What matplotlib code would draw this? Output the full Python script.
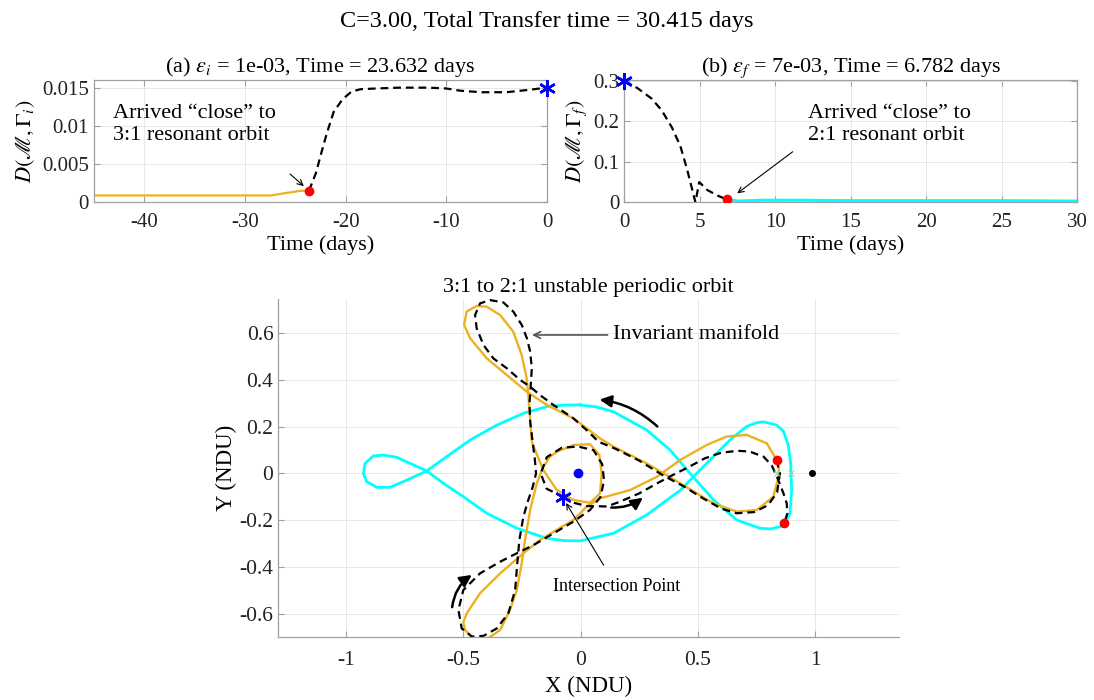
"""
Manifold transfer from the 3:1 to the 2:1 resonant orbit (C = 3.00).

Top row: distance of the manifold arc from each resonant orbit over time.
Bottom: the two orbits and the connecting manifold in the rotating frame.
"""
import matplotlib
matplotlib.use("Agg")
import matplotlib.pyplot as plt
from matplotlib.patches import FancyArrowPatch
from matplotlib.ticker import FormatStrFormatter

plt.rcParams["font.family"] = ["Liberation Serif", "DejaVu Serif"]
plt.rcParams["mathtext.fontset"] = "stix"
plt.rcParams["axes.unicode_minus"] = False

ORANGE = "#EDB120"
CYAN = "#00FFFF"
SPINE = "#a0a0a0"
GRID = "#e8e8e8"
DASH = (0, (3.5, 2.2))

# ---- (a) distance to the 3:1 orbit, backward time ----
a_orbit_t = [-45.0, -40.0, -35.0, -30.0, -27.4, -26.0, -24.5, -23.632]
a_orbit_d = [0.0009, 0.0009, 0.0009, 0.0009, 0.0009, 0.0012, 0.0015, 0.0015]
a_manif_t = [-23.632, -23.5, -22.96, -22.43, -21.9, -21.2, -20.3, -19.4, -18.5,
             -16.8, -14.65, -11.8, -10.05, -8.6, -6.5, -4.04, -1.9, 0.0]
a_manif_d = [0.0015, 0.0020, 0.0038, 0.0064, 0.0089, 0.0118, 0.0135, 0.0145,
             0.0148, 0.0149, 0.0150, 0.0150, 0.0149, 0.0146, 0.0144, 0.0144,
             0.0147, 0.0150]
a_arrive = (-23.632, 0.0015)
a_start = (0.0, 0.0150)

# ---- (b) distance to the 2:1 orbit, forward time ----
b_manif_t = [0.0, 0.9, 1.8, 2.47, 3.14, 3.7, 4.15, 4.49, 4.7, 4.95, 5.5, 6.2, 6.782]
b_manif_d = [0.300, 0.281, 0.256, 0.227, 0.185, 0.139, 0.081, 0.031, 0.0,
             0.050, 0.030, 0.016, 0.007]
b_orbit_t = [6.782, 7.5, 9.0, 12.0, 15.0, 20.0, 25.0, 30.0]
b_orbit_d = [0.007, 0.003, 0.005, 0.005, 0.004, 0.004, 0.004, 0.003]
b_arrive = (6.782, 0.007)
b_start = (0.0, 0.300)

# ---- rotating frame (NDU) ----
orb31_x = [-0.144, -0.031, 0.083, 0.140, 0.282, 0.425, 0.567, 0.666, 0.751, 0.822,
           0.844, 0.845, 0.836, 0.794, 0.708, 0.623, 0.538, 0.425, 0.325, 0.211,
           0.083, 0.026, -0.031, -0.102, -0.173, -0.244, -0.343, -0.429, -0.485,
           -0.500, -0.493, -0.457, -0.400, -0.343, -0.301, -0.272, -0.251, -0.237,
           -0.215, -0.187, -0.159, -0.130, -0.101, -0.030, 0.040, 0.080, 0.090,
           0.083, 0.040, -0.031, -0.102, -0.159, -0.194, -0.208, -0.215, -0.223,
           -0.230, -0.251, -0.287, -0.343, -0.400, -0.443, -0.486, -0.497, -0.471,
           -0.400, -0.315, -0.230, -0.144]
orb31_y = [0.293, 0.236, 0.150, 0.115, 0.043, -0.042, -0.128, -0.163, -0.156, -0.099,
           -0.014, 0.020, 0.058, 0.129, 0.165, 0.158, 0.122, 0.058, -0.014, -0.071,
           -0.106, -0.142, -0.199, -0.241, -0.284, -0.341, -0.427, -0.512, -0.597,
           -0.635, -0.669, -0.704, -0.708, -0.669, -0.583, -0.498, -0.384, -0.284,
           -0.156, -0.042, 0.029, 0.072, 0.093, 0.122, 0.125, 0.080, 0.000,
           -0.085, -0.125, -0.113, -0.070, 0.015, 0.100, 0.136, 0.236, 0.335,
           0.407, 0.506, 0.606, 0.677, 0.713, 0.716, 0.692, 0.635, 0.578,
           0.492, 0.421, 0.350, 0.293]

orb21_x = [-0.002, -0.070, -0.144, -0.244, -0.357, -0.471, -0.571, -0.656, -0.741,
           -0.812, -0.869, -0.912, -0.926, -0.919, -0.884, -0.841, -0.784, -0.727,
           -0.656, -0.585, -0.500, -0.400, -0.272, -0.144, -0.070, -0.002, 0.140,
           0.282, 0.426, 0.495, 0.566, 0.637, 0.708, 0.750, 0.779, 0.836, 0.865,
           0.886, 0.896, 0.900, 0.893, 0.875, 0.851, 0.810, 0.765, 0.666, 0.567,
           0.467, 0.382, 0.282, 0.140, 0.070, -0.002]
orb21_y = [0.293, 0.292, 0.286, 0.257, 0.207, 0.143, 0.072, 0.011, -0.028,
           -0.059, -0.059, -0.035, 0.000, 0.043, 0.075, 0.079, 0.069, 0.043,
           0.011, -0.042, -0.099, -0.170, -0.234, -0.277, -0.287, -0.288, -0.256,
           -0.177, -0.071, 0.000, 0.072, 0.143, 0.201, 0.217, 0.221, 0.207, 0.180,
           0.120, 0.043, -0.071, -0.170, -0.207, -0.227, -0.237, -0.234, -0.199,
           -0.113, 0.000, 0.100, 0.186, 0.264, 0.284, 0.293]

# unstable manifold of the 3:1 orbit, up to the intersection point
man_a_x = [0.836, 0.850, 0.838, 0.800, 0.740, 0.665, 0.600, 0.520, 0.440, 0.355,
           0.250, 0.150, 0.076, 0.033, -0.031, -0.116, -0.173, -0.215, -0.258,
           -0.315, -0.372, -0.414, -0.443, -0.450, -0.429, -0.386, -0.329, -0.287,
           -0.251, -0.229, -0.215, -0.208, -0.213, -0.218, -0.215, -0.205, -0.195,
           -0.190, -0.205, -0.223, -0.244, -0.261, -0.270, -0.279, -0.308, -0.357,
           -0.414, -0.464, -0.507, -0.521, -0.500, -0.429, -0.343, -0.272, -0.201,
           -0.116, -0.031, 0.040, 0.085, 0.100, 0.092, 0.055, -0.010, -0.080,
           -0.144, -0.170, -0.145, -0.076]
man_a_y = [0.058, 0.000, -0.080, -0.135, -0.165, -0.170, -0.150, -0.105, -0.055,
           -0.010, 0.055, 0.105, 0.136, 0.179, 0.236, 0.293, 0.335, 0.371, 0.400,
           0.450, 0.492, 0.549, 0.620, 0.677, 0.727, 0.741, 0.731, 0.692, 0.635,
           0.578, 0.521, 0.450, 0.370, 0.300, 0.220, 0.140, 0.060, 0.000, -0.060,
           -0.113, -0.185, -0.284, -0.384, -0.498, -0.597, -0.662, -0.694, -0.697,
           -0.662, -0.583, -0.498, -0.427, -0.377, -0.341, -0.306, -0.256, -0.206,
           -0.156, -0.100, -0.030, 0.040, 0.100, 0.115, 0.110, 0.070, 0.000,
           -0.065, -0.099]

# stable manifold of the 2:1 orbit, from the intersection point on
man_b_x = [-0.076, -0.030, 0.026, 0.112, 0.169, 0.250, 0.330, 0.400, 0.460, 0.530,
           0.600, 0.670, 0.720, 0.780, 0.815, 0.840, 0.865, 0.879, 0.882, 0.868]
man_b_y = [-0.099, -0.125, -0.139, -0.141, -0.120, -0.085, -0.040, -0.003, 0.027,
           0.065, 0.089, 0.097, 0.094, 0.072, 0.035, -0.020, -0.085, -0.128,
           -0.170, -0.213]

earth = (-0.012, 0.0)
moon = (0.988, 0.0)
lagrange_x = [0.837, 0.897]
depart_pt = (0.836, 0.058)
arrive_pt = (0.868, -0.213)
cross_pt = (-0.076, -0.099)

ASTERISK = (6, 2, 0)


def style_axes(ax, labelsize, box=True):
    for name, sp in ax.spines.items():
        sp.set_color(SPINE)
        sp.set_linewidth(0.9)
        if not box and name in ("top", "right"):
            sp.set_visible(False)
    ax.tick_params(direction="in", length=4, width=0.8, color=SPINE,
                   labelsize=labelsize, labelcolor="#222222",
                   top=box, right=box)
    ax.tick_params(axis="x", pad=8)
    ax.grid(True, color=GRID, linewidth=0.7)
    ax.set_axisbelow(True)


fig = plt.figure(figsize=(10.94, 7.0), dpi=100)
fig.suptitle("C=3.00, Total Transfer time = 30.415 days", fontsize=17.5, y=0.985)

# (a)
ax = fig.add_axes([0.0859, 0.711, 0.4141, 0.1747])
style_axes(ax, 15)
ax.plot(a_orbit_t, a_orbit_d, color=ORANGE, lw=1.6)
ax.plot(a_manif_t, a_manif_d, color="black", lw=1.6, ls=DASH)
ax.plot(*a_arrive, "o", color="red", ms=6, zorder=5)
ax.plot(*a_start, marker=ASTERISK, color="blue", ms=12, mew=1.8,
        clip_on=False, zorder=6)
ax.set_xlim(-45, 0)
ax.set_ylim(0, 0.016)
ax.set_xticks([-40, -30, -20, -10, 0])
ax.set_yticks([0, 0.005, 0.01, 0.015])
ax.yaxis.set_major_formatter(FormatStrFormatter("%g"))
ax.set_xlabel("Time (days)", fontsize=16, labelpad=2)
ax.set_ylabel(r"$D(\mathscr{M},\Gamma_i)$", fontsize=16, labelpad=4)
ax.set_title(r"(a) $\epsilon_i$ = 1e-03, Time = 23.632 days", fontsize=16, pad=6)
ax.text(-43.1, 0.0102, "Arrived \u201cclose\u201d to\n3:1 resonant orbit",
        fontsize=16, va="center", ha="left", linespacing=1.2)
ax.annotate("", xy=(-23.95, 0.00187), xytext=(-25.73, 0.00395),
            arrowprops=dict(arrowstyle="->", color="black", lw=0.8,
                            mutation_scale=10))

# (b)
ax = fig.add_axes([0.5708, 0.711, 0.4141, 0.1747])
style_axes(ax, 15)
ax.plot(b_orbit_t, b_orbit_d, color=CYAN, lw=2.2)
ax.plot(b_manif_t, b_manif_d, color="black", lw=1.6, ls=DASH)
ax.plot(*b_arrive, "o", color="red", ms=6, zorder=5)
ax.plot(*b_start, marker=ASTERISK, color="blue", ms=12, mew=1.8,
        clip_on=False, zorder=6)
ax.set_xlim(0, 30)
ax.set_ylim(0, 0.302)
ax.set_xticks(range(0, 31, 5))
ax.set_yticks([0, 0.1, 0.2, 0.3])
ax.yaxis.set_major_formatter(FormatStrFormatter("%g"))
ax.set_xlabel("Time (days)", fontsize=16, labelpad=2)
ax.set_ylabel(r"$D(\mathscr{M},\Gamma_f)$", fontsize=16, labelpad=3)
ax.set_title(r"(b) $\epsilon_f$ = 7e-03, Time = 6.782 days", fontsize=16, pad=6)
ax.text(12.15, 0.193, "Arrived \u201cclose\u201d to\n2:1 resonant orbit",
        fontsize=16, va="center", ha="left", linespacing=1.2)
ax.annotate("", xy=(7.32, 0.018), xytext=(11.29, 0.129),
            arrowprops=dict(arrowstyle="->", color="black", lw=0.8,
                            mutation_scale=10))

# rotating frame
ax = fig.add_axes([0.2544, 0.0896, 0.5674, 0.483])
style_axes(ax, 15.5, box=False)
ax.plot(orb21_x, orb21_y, color=CYAN, lw=2.0, solid_joinstyle="round")
ax.plot(orb31_x, orb31_y, color=ORANGE, lw=1.7, solid_joinstyle="round")
ax.plot(man_a_x, man_a_y, color="black", lw=1.6, ls=DASH)
ax.plot(man_b_x, man_b_y, color="black", lw=1.6, ls=DASH)
ax.plot(lagrange_x, [0, 0], ls="none", marker="x", ms=4, mew=0.8,
        color="#9ad9b0")
ax.plot(*earth, "o", color="blue", ms=6)
ax.plot(*moon, "o", color="black", ms=4)
ax.plot([depart_pt[0], arrive_pt[0]], [depart_pt[1], arrive_pt[1]], "o",
        ls="none", color="red", ms=6, zorder=5)
ax.plot(*cross_pt, marker=ASTERISK, color="blue", ms=12, mew=1.8, zorder=6)

for start, end, rad in [((0.336, 0.193), (0.069, 0.317), 0.17),
                        ((0.119, -0.145), (0.275, -0.096), 0.2),
                        ((-0.549, -0.583), (-0.454, -0.427), -0.25)]:
    ax.add_patch(FancyArrowPatch(start, end, connectionstyle=f"arc3,rad={rad}",
                                 arrowstyle="-|>,head_length=0.5,head_width=0.25",
                                 mutation_scale=14, lw=1.8, color="black",
                                 zorder=7))

ax.annotate("Invariant manifold", xy=(-0.207, 0.592), xytext=(0.139, 0.592),
            fontsize=16, va="center", ha="left",
            arrowprops=dict(arrowstyle="->", color="#555555", lw=1.2,
                            mutation_scale=12, shrinkA=2, shrinkB=0))
ax.annotate("Intersection Point", xy=(-0.062, -0.126), xytext=(0.152, -0.481),
            fontsize=13, va="center", ha="center",
            arrowprops=dict(arrowstyle="->", color="black", lw=0.8,
                            mutation_scale=10, shrinkA=8, shrinkB=0))

ax.set_xlim(-1.289, 1.358)
ax.set_ylim(-0.70, 0.745)
ax.set_xticks([-1, -0.5, 0, 0.5, 1])
ax.set_yticks([-0.6, -0.4, -0.2, 0, 0.2, 0.4, 0.6])
ax.xaxis.set_major_formatter(FormatStrFormatter("%g"))
ax.yaxis.set_major_formatter(FormatStrFormatter("%g"))
ax.tick_params(axis="x", pad=10)
ax.set_xlabel("X (NDU)", fontsize=16.5, labelpad=4)
ax.set_ylabel("Y (NDU)", fontsize=16.5, labelpad=2)
ax.set_title("3:1 to 2:1 unstable periodic orbit", fontsize=16, pad=5)

fig.savefig("out.png", dpi=100)
